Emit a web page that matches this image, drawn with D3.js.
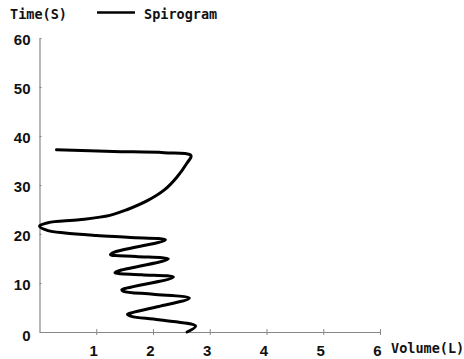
<!DOCTYPE html>
<html>
<head>
<meta charset="utf-8">
<script src="https://cdn.jsdelivr.net/npm/d3@7"></script>
<style>
  body { margin: 0; background: #fff; }
  svg { display: block; }
  .lbl { font-family: "DejaVu Sans Mono", "Liberation Mono", monospace; font-weight: bold; font-size: 13.5px; fill: #111; }
  .tick text { font-family: "Liberation Sans", Arial, sans-serif; font-weight: bold; font-size: 15px; fill: #111; }
</style>
</head>
<body>
<svg id="chart"></svg>
<script>
const width = 464;
const height = 359;

// spirogram trace: volume (L) and time (s)
const volume = [2.60, 2.75, 2.10, 1.62, 1.55, 1.65, 2.10, 2.64, 2.00, 1.48, 1.45, 1.55,
  2.36, 1.80, 1.33, 1.40, 2.27, 1.70, 1.25, 1.32, 2.22, 1.60, 1.00, 0.45, 0.15, 0.00,
  0.15, 0.70, 1.24, 1.55, 1.90, 2.20, 2.42, 2.60, 2.67, 2.20, 1.30, 0.30];
const time = [0.0, 1.2, 2.5, 3.2, 3.6, 4.0, 5.2, 6.9, 7.7, 8.3, 8.6, 9.0,
  11.2, 11.7, 12.1, 12.5, 14.9, 15.4, 15.8, 16.3, 18.8, 19.3, 19.7, 20.2, 20.7, 21.6,
  22.3, 22.9, 23.8, 25.0, 26.8, 29.0, 31.6, 34.5, 36.0, 36.6, 36.85, 37.2];

const xTicks = [1, 2, 3, 4, 5, 6];
const yTicks = [0, 10, 20, 30, 40, 50, 60];
const seriesName = "Spirogram";

const svg = d3.select("#chart").attr("width", width).attr("height", height);

const x = d3.scaleLinear().domain([0, 6]).range([39.5, 380]);
const y = d3.scaleLinear().domain([0, 60]).range([332, 38]);

// axes
const xAxis = svg.append("g")
  .attr("transform", "translate(0," + y(0) + ")")
  .call(d3.axisBottom(x).tickValues(xTicks).tickFormat(d3.format("d"))
    .tickSize(3).tickPadding(8).tickSizeOuter(0));
xAxis.selectAll(".tick line").attr("y1", -3);

const yAxis = svg.append("g")
  .attr("transform", "translate(" + x(0) + ",0)")
  .call(d3.axisLeft(y).tickValues(yTicks).tickFormat(d3.format("d"))
    .tickSize(3).tickPadding(6).tickSizeOuter(0));
yAxis.selectAll(".tick line").attr("x2", 2);

svg.selectAll(".domain").attr("stroke", "#888").attr("stroke-width", 1.2);
svg.selectAll(".tick line").attr("stroke", "#888");
xAxis.selectAll(".tick text").attr("dx", "-3").attr("dy", "0.85em");
yAxis.selectAll(".tick text").attr("dy", "0.4em");
yAxis.selectAll(".tick").filter(d => d === 0).select("text").attr("dy", "0.55em");

// trace
const pts = volume.map((v, i) => [v, time[i]]);
const line = d3.line()
  .x(d => x(d[0]))
  .y(d => y(d[1]))
  .curve(d3.curveCatmullRom.alpha(0.5));

svg.append("path")
  .datum(pts)
  .attr("d", line)
  .attr("fill", "none")
  .attr("stroke", "#000")
  .attr("stroke-width", 3)
  .attr("stroke-linejoin", "round")
  .attr("stroke-linecap", "round");

// titles and legend
svg.append("text").attr("class", "lbl").attr("x", 10).attr("y", 19).text("Time(S)");
svg.append("text").attr("class", "lbl").attr("x", 391).attr("y", 353).text("Volume(L)");

svg.append("line")
  .attr("x1", 97).attr("x2", 135).attr("y1", 12.5).attr("y2", 12.5)
  .attr("stroke", "#000").attr("stroke-width", 2.5);
svg.append("text").attr("class", "lbl").attr("x", 144).attr("y", 19).text(seriesName);
</script>
</body>
</html>
